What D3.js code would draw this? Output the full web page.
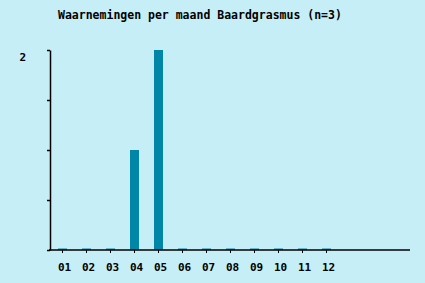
<!DOCTYPE html>
<html lang="nl">
<head>
<meta charset="UTF-8">
<title>Waarnemingen per maand</title>
<style>
body { margin: 0; background: #c6eef6; }
text { font-family: "DejaVu Sans Mono", monospace; font-weight: bold; fill: #000; }
</style>
</head>
<body>
<script src="https://cdn.jsdelivr.net/npm/d3@7/dist/d3.min.js"></script>
<script>
    var title = "Waarnemingen per maand Baardgrasmus (n=3)";
    var months = ["01", "02", "03", "04", "05", "06", "07", "08", "09", "10", "11", "12"];
    var counts = [0, 0, 0, 1, 2, 0, 0, 0, 0, 0, 0, 0];
    var yTicks = [0, 0.5, 1, 1.5, 2];
    var yLabels = [2];

    var width = 425, height = 283;

    var svg = d3.select("body").append("svg")
        .attr("width", width)
        .attr("height", height);

    svg.append("rect")
        .attr("width", width)
        .attr("height", height)
        .attr("fill", "#c6eef6");

    var x = d3.scaleBand()
        .domain(months)
        .range([50, 339])
        .paddingInner(0.625)
        .paddingOuter(1 / 3);

    var y = d3.scaleLinear().domain([0, 2]).range([250, 50]);

    svg.append("text")
        .attr("x", 58)
        .attr("y", 19)
        .attr("font-size", "11.5px")
        .text(title);

    // bars (zero months get a thin stub)
    svg.selectAll(".bar")
        .data(counts)
        .enter().append("rect")
        .attr("class", "bar")
        .attr("fill", "#0087a8")
        .attr("x", function(d, i) { return x(months[i]); })
        .attr("width", x.bandwidth())
        .attr("y", function(d) { return d > 0 ? y(d) : y(0) - 1.5; })
        .attr("height", function(d) { return d > 0 ? y(0) - y(d) : 1.5; });

    // y axis
    var yAxis = svg.append("g")
        .attr("transform", "translate(50,0)")
        .call(d3.axisLeft(y).tickValues(yTicks).tickSize(3).tickSizeOuter(0).tickFormat(""));
    yAxis.selectAll("line, path").attr("stroke", "#000").attr("stroke-width", 1.5);

    svg.selectAll(".ylab")
        .data(yLabels)
        .enter().append("text")
        .attr("class", "ylab")
        .attr("x", 26)
        .attr("y", function(d) { return y(d) + 11; })
        .attr("text-anchor", "end")
        .attr("font-size", "11px")
        .text(function(d) { return d; });

    // x axis
    var xAxis = svg.append("g")
        .attr("transform", "translate(0,250)")
        .call(d3.axisBottom(x).tickSize(3).tickPadding(10));
    xAxis.select(".domain").remove();
    xAxis.selectAll("line").attr("stroke", "#000");
    xAxis.selectAll("text")
        .attr("dx", 2)
        .style("font-size", "11px")
        .style("font-family", "DejaVu Sans Mono, monospace")
        .style("font-weight", "bold")
        .attr("fill", "#000");

    svg.append("line")
        .attr("x1", 49)
        .attr("x2", 410)
        .attr("y1", y(0))
        .attr("y2", y(0))
        .attr("stroke", "#000")
        .attr("stroke-width", 1.5);
</script>
</body>
</html>
